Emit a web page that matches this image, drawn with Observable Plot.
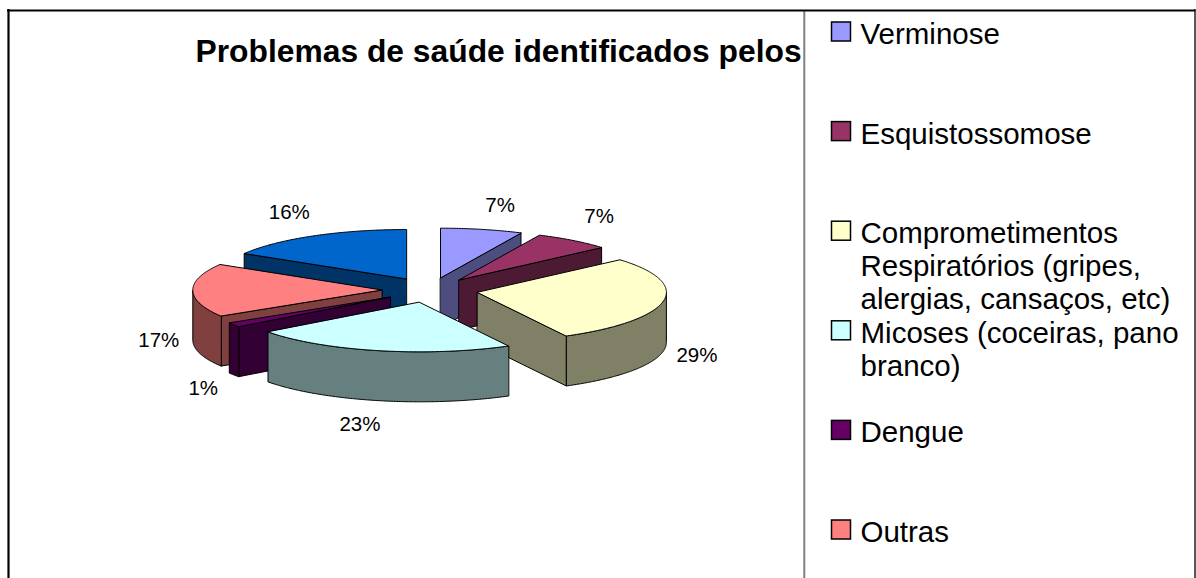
<!DOCTYPE html>
<html>
<head>
<meta charset="utf-8">
<script src="https://cdn.jsdelivr.net/npm/d3@7"></script>
<script src="https://cdn.jsdelivr.net/npm/@observablehq/plot@0.6"></script>
<style>
  html, body { margin: 0; padding: 0; background: #fff; }
  #chart svg { display: block; }
</style>
</head>
<body>
<div id="chart"></div>
<script>
// ---- data ----
const title = "Problemas de saúde identificados pelos";
const categories = [
  "Verminose",
  "Esquistossomose",
  "Comprometimentos Respiratórios (gripes, alergias, cansaços, etc)",
  "Micoses (coceiras, pano branco)",
  "Dengue",
  "Outras",
  "(legenda fora da área visível)"
];
const legendLabels = [
  "Verminose",
  "Esquistossomose",
  "Comprometimentos\nRespiratórios (gripes,\nalergias, cansaços, etc)",
  "Micoses (coceiras, pano\nbranco)",
  "Dengue",
  "Outras"
];
// shares (%); labels show them rounded
const values = [7.0, 6.6, 28.6, 22.6, 1.4, 17.4, 16.4];
const colors = ["#9999FF", "#993366", "#FFFFCC", "#CCFFFF", "#660066", "#FF8080", "#0066CC"];

// ---- layout ----
const W = 1196, H = 578;
const CX = 429.5, CY = 289.5, RX = 189, RY = 49.5, DEPTH = 50, EXPLODE = 0.255;

const sideColor = c => { const k = d3.rgb(c); return d3.rgb(k.r * 0.5, k.g * 0.5, k.b * 0.5).formatHex(); };

const arcs = d3.pie().sort(null).value(d => d)(values);
const slices = arcs.map((a, i) => {
  const mid = (a.startAngle + a.endAngle) / 2;
  return {
    i, a0: a.startAngle, a1: a.endAngle, mid,
    ox: CX + EXPLODE * RX * Math.sin(mid),
    oy: CY - EXPLODE * RY * Math.cos(mid)
  };
});
const pt = (s, t, dz = 0) => [s.ox + RX * Math.sin(t), s.oy - RY * Math.cos(t) + dz];
const arcPts = (s, t0, t1, dz) => {
  const n = Math.max(2, Math.ceil(Math.abs(t1 - t0) / (Math.PI / 360)) + 1);
  return d3.range(n).map(k => pt(s, t0 + (t1 - t0) * k / (n - 1), dz));
};

// painter's order: back to front
const order = slices.slice().sort((a, b) => Math.cos(b.mid) - Math.cos(a.mid));
const faceMarks = [];
const lineOpts = (fill) => ({x: d => d[0], y: d => d[1], fill, stroke: "#000", strokeWidth: 1, curve: "linear-closed", strokeLinejoin: "round"});
for (const s of order) {
  const top = colors[s.i], side = sideColor(colors[s.i]);
  const apex = [s.ox, s.oy], apexB = [s.ox, s.oy + DEPTH];
  const cut = t => [apex, pt(s, t), pt(s, t, DEPTH), apexB];
  if (Math.sin(s.a0) < -1e-6) faceMarks.push(Plot.line(cut(s.a0), lineOpts(side)));
  if (Math.sin(s.a1) > 1e-6) faceMarks.push(Plot.line(cut(s.a1), lineOpts(side)));
  const t0 = Math.max(s.a0, Math.PI / 2), t1 = Math.min(s.a1, 3 * Math.PI / 2);
  if (t1 > t0) faceMarks.push(Plot.line([...arcPts(s, t0, t1, 0), ...arcPts(s, t1, t0, DEPTH)], lineOpts(side)));
  faceMarks.push(Plot.line([apex, ...arcPts(s, s.a0, s.a1, 0)], lineOpts(top)));
}

// percentage labels, placed outside each slice
const labelRows = slices.map(s => {
  const sx = Math.sin(s.mid), sy = -Math.cos(s.mid);
  const front = sy > -0.5;
  const [px, py] = pt(s, s.mid, front ? DEPTH : 0);
  const dx = 20 * sx + 14 * Math.sign(sx);
  const dy = front ? 24 * sy : -24 * Math.min(1, -sy * 1.25);
  return {x: px + dx, y: py + dy, text: `${Math.round(values[s.i])}%`};
});

// legend rows
const legendRows = legendLabels.map((label, i) => ({label, i, color: colors[i], base: 41 + 99.6 * i}));

const chart = Plot.plot({
  width: W, height: H, margin: 0,
  x: {domain: [0, W], range: [0, W], axis: null},
  y: {domain: [0, H], range: [0, H], axis: null},
  style: {fontFamily: "'Liberation Sans', Arial, sans-serif", background: "#fff", color: "#000"},
  marks: [
    Plot.text([title], {x: () => 195, y: () => 61, text: d => d, textAnchor: "start", lineAnchor: "bottom", fontSize: 31.8, fontWeight: "bold", fill: "#000"}),
    ...faceMarks,
    Plot.text(labelRows, {x: "x", y: "y", text: "text", fontSize: 20.5, textAnchor: "middle", lineAnchor: "middle", fill: "#000"}),
    // legend area (covers the clipped title)
    Plot.rect([0], {x1: () => 804.5, x2: () => 1193.8, y1: () => 11, y2: () => H, fill: "#fff"}),
    Plot.rect(legendRows, {x1: () => 831.5, x2: () => 850.5, y1: d => d.base - 19, y2: d => d.base, fill: "color", stroke: "#000", strokeWidth: 1.5}),
    Plot.text(legendRows, {x: () => 860, y: d => d.base - 0.71 * 29.5, text: "label", textAnchor: "start", lineAnchor: "top", fontSize: 29.5, lineHeight: 33 / 29.5, fill: "#000"}),
    // borders
    Plot.ruleX([0], {x: () => 803.8, y1: () => 10, y2: () => H, stroke: "#808080", strokeWidth: 2}),
    Plot.ruleX([0], {x: () => 1194.5, y1: () => 9, y2: () => H, stroke: "#222", strokeWidth: 1.5}),
    Plot.ruleX([0], {x: () => 8, y1: () => 9, y2: () => H, stroke: "#000", strokeWidth: 2.2}),
    Plot.ruleY([0], {y: () => 10, x1: () => 7, x2: () => 1195.3, stroke: "#000", strokeWidth: 2.2})
  ]
});
document.getElementById("chart").appendChild(chart);
</script>
</body>
</html>
